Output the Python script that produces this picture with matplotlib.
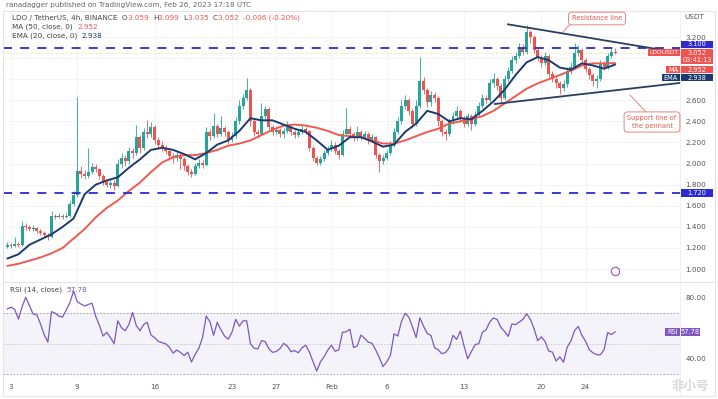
import numpy as np
import pandas as pd
import matplotlib
matplotlib.use("Agg")
import matplotlib.pyplot as plt
import matplotlib.dates as mdates
from matplotlib.patches import Rectangle
from matplotlib.lines import Line2D

# ---------------- data ----------------
first_open = 1.21
closes = [1.23, 1.22, 1.24, 1.23, 1.41, 1.40, 1.38, 1.39, 1.36, 1.34,
          1.32, 1.30, 1.50, 1.49, 1.50, 1.49, 1.50, 1.62, 1.70, 1.93,
          1.90, 1.88, 1.92, 1.97, 1.95, 1.88, 1.83, 1.80, 1.82, 1.79,
          2.00, 2.05, 2.02, 2.12, 2.10, 2.25, 2.15, 2.30, 2.28, 2.35,
          2.22, 2.18, 2.15, 2.12, 2.07, 2.05, 2.08, 2.04, 1.98, 1.92,
          1.90, 1.98, 2.01, 1.99, 2.30, 2.26, 2.36, 2.28, 2.34, 2.30,
          2.22, 2.26, 2.40, 2.55, 2.62, 2.70, 2.40, 2.30, 2.28, 2.45,
          2.52, 2.35, 2.30, 2.32, 2.28, 2.31, 2.35, 2.30, 2.27, 2.30,
          2.33, 2.31, 2.15, 2.05, 2.01, 2.04, 2.10, 2.14, 2.18, 2.12,
          2.08, 2.28, 2.33, 2.28, 2.24, 2.30, 2.25, 2.28, 2.22, 2.25,
          2.08, 2.02, 2.05, 2.10, 2.18, 2.30, 2.40, 2.55, 2.60, 2.50,
          2.38, 2.55, 2.78, 2.70, 2.58, 2.65, 2.62, 2.40, 2.30, 2.28,
          2.40, 2.45, 2.50, 2.42, 2.38, 2.45, 2.38, 2.46, 2.55, 2.62,
          2.60, 2.76, 2.80, 2.74, 2.62, 2.80, 2.88, 2.98, 3.02, 3.10,
          3.06, 3.25, 3.20, 3.08, 3.00, 2.95, 3.02, 2.85, 2.80, 2.76,
          2.72, 2.75, 2.88, 2.92, 3.05, 3.08, 2.98, 2.90, 2.84, 2.78,
          2.80, 2.95, 2.92, 3.02, 3.06, 3.052]
highs = [1.26, 1.25, 1.30, 1.26, 1.46, 1.44, 1.42, 1.42, 1.40, 1.38,
         1.36, 1.34, 1.55, 1.52, 1.53, 1.52, 1.53, 1.65, 1.74, 2.63,
         1.98, 1.94, 2.15, 2.01, 2.00, 1.96, 1.90, 1.85, 1.85, 1.84,
         2.04, 2.10, 2.08, 2.16, 2.15, 2.37, 2.27, 2.34, 2.41, 2.39,
         2.37, 2.25, 2.21, 2.18, 2.14, 2.10, 2.11, 2.10, 2.06, 2.00,
         1.95, 2.01, 2.04, 2.03, 2.35, 2.33, 2.48, 2.38, 2.45, 2.36,
         2.32, 2.30, 2.44, 2.60, 2.66, 2.81, 2.72, 2.42, 2.33, 2.57,
         2.55, 2.54, 2.37, 2.35, 2.34, 2.34, 2.40, 2.37, 2.32, 2.33,
         2.36, 2.35, 2.32, 2.17, 2.07, 2.07, 2.13, 2.17, 2.22, 2.20,
         2.14, 2.32, 2.53, 2.36, 2.30, 2.36, 2.32, 2.31, 2.30, 2.28,
         2.26, 2.10, 2.08, 2.13, 2.21, 2.34, 2.44, 2.60, 2.65, 2.62,
         2.52, 2.60, 3.01, 2.82, 2.72, 2.69, 2.68, 2.64, 2.42, 2.33,
         2.43, 2.49, 2.55, 2.52, 2.45, 2.48, 2.47, 2.50, 2.58, 2.66,
         2.65, 2.80, 2.86, 2.82, 2.76, 2.84, 2.92, 3.02, 3.06, 3.14,
         3.13, 3.31, 3.27, 3.22, 3.10, 3.03, 3.06, 3.04, 2.88, 2.82,
         2.78, 2.79, 2.92, 2.96, 3.14, 3.12, 3.10, 3.00, 2.92, 2.86,
         2.84, 2.98, 2.97, 3.05, 3.10, 3.099]
lows = [1.20, 1.20, 1.21, 1.21, 1.22, 1.37, 1.36, 1.36, 1.34, 1.32,
        1.30, 1.28, 1.29, 1.47, 1.48, 1.47, 1.48, 1.49, 1.60, 1.68,
        1.86, 1.85, 1.86, 1.90, 1.92, 1.85, 1.80, 1.78, 1.77, 1.75,
        1.78, 1.96, 1.98, 2.00, 2.05, 2.08, 2.10, 2.13, 2.24, 2.25,
        2.19, 2.14, 2.12, 2.09, 2.03, 2.01, 2.02, 1.95, 1.94, 1.89,
        1.87, 1.89, 1.96, 1.96, 1.98, 2.22, 2.24, 2.25, 2.26, 2.26,
        2.19, 2.20, 2.24, 2.38, 2.52, 2.60, 2.36, 2.26, 2.24, 2.27,
        2.42, 2.32, 2.27, 2.28, 2.25, 2.24, 2.29, 2.27, 2.24, 2.25,
        2.28, 2.28, 2.12, 2.02, 1.99, 1.99, 2.02, 2.08, 2.12, 2.09,
        2.04, 2.07, 2.26, 2.25, 2.21, 2.22, 2.22, 2.23, 2.19, 2.20,
        2.05, 1.92, 2.00, 2.03, 2.08, 2.16, 2.28, 2.38, 2.52, 2.46,
        2.34, 2.36, 2.53, 2.66, 2.54, 2.55, 2.58, 2.36, 2.26, 2.22,
        2.26, 2.38, 2.43, 2.39, 2.35, 2.36, 2.32, 2.36, 2.44, 2.53,
        2.57, 2.58, 2.73, 2.70, 2.58, 2.60, 2.78, 2.86, 2.95, 3.00,
        3.03, 3.04, 3.14, 3.05, 2.97, 2.92, 2.93, 2.82, 2.77, 2.72,
        2.66, 2.69, 2.73, 2.85, 2.90, 3.02, 2.95, 2.87, 2.80, 2.74,
        2.72, 2.78, 2.89, 2.90, 3.00, 3.035]
ma50 = [1.03, 1.05, 1.08, 1.11, 1.15, 1.20, 1.29, 1.38, 1.49, 1.58,
        1.65, 1.74, 1.82, 1.92, 2.01, 2.06, 2.08, 2.08, 2.10, 2.13,
        2.17, 2.19, 2.22, 2.27, 2.32, 2.36, 2.37, 2.36, 2.34, 2.31,
        2.27, 2.26, 2.25, 2.22, 2.19, 2.19, 2.22, 2.26, 2.30, 2.33,
        2.38, 2.40, 2.42, 2.45, 2.50, 2.57, 2.64, 2.71, 2.76, 2.80,
        2.84, 2.88, 2.93, 2.95, 2.95, 2.952]
ema20 = [1.10, 1.14, 1.23, 1.28, 1.33, 1.40, 1.48, 1.71, 1.80, 1.84,
         1.87, 1.96, 2.04, 2.13, 2.15, 2.13, 2.09, 2.04, 2.10, 2.18,
         2.22, 2.31, 2.43, 2.41, 2.41, 2.37, 2.33, 2.30, 2.22, 2.13,
         2.17, 2.25, 2.25, 2.21, 2.16, 2.18, 2.30, 2.38, 2.50, 2.47,
         2.40, 2.43, 2.42, 2.50, 2.59, 2.70, 2.84, 2.96, 3.01, 2.98,
         2.91, 2.89, 2.95, 2.93, 2.90, 2.938]
rsi = [72.8, 74.0, 72.5, 66.2, 74.0, 80.5, 75.0, 69.5, 69.0, 63.0,
       56.0, 51.0, 71.0, 70.0, 68.0, 67.5, 72.0, 77.0, 84.5, 77.5,
       76.0, 74.7, 75.8, 76.5, 68.0, 62.0, 55.0, 57.5, 54.0, 50.0,
       65.0, 60.5, 58.5, 62.5, 70.5, 62.0, 58.5, 62.5, 64.0, 55.7,
       54.0, 51.5, 50.7, 49.9, 47.7, 43.8, 45.8, 44.3, 42.2, 44.4,
       38.0, 43.0, 47.0, 54.0, 68.0, 64.5, 55.5, 64.0, 59.0, 55.0,
       53.0, 57.5, 66.0, 61.5, 65.0, 65.0, 50.0, 47.0, 46.6, 52.0,
       51.4, 46.6, 44.3, 44.9, 46.7, 50.2, 48.5, 44.7, 45.5, 44.0,
       47.3, 49.0, 44.6, 38.2, 32.1, 38.0, 41.5, 45.8, 49.0, 45.0,
       46.0, 57.5, 57.8, 59.5, 47.5, 48.5, 55.7, 53.5, 51.0, 50.3,
       46.0, 40.8, 35.0, 38.0, 42.3, 56.5, 55.0, 64.5, 70.0, 67.4,
       61.0, 54.0, 67.0, 61.5, 56.7, 55.4, 47.4, 46.0, 43.4, 44.3,
       47.5, 55.5, 52.8, 58.3, 48.5, 40.1, 44.9, 49.4, 50.0, 57.5,
       59.2, 64.3, 66.9, 65.8, 60.7, 58.0, 54.8, 63.0, 62.5, 64.2,
       66.0, 69.6, 66.0, 59.8, 52.0, 54.5, 51.4, 45.1, 44.5, 38.6,
       41.4, 37.8, 47.7, 51.7, 58.6, 61.3, 55.5, 51.5, 46.1, 44.0,
       42.8, 42.7, 46.0, 57.3, 56.0, 57.78]

tick_dates = ["2023-01-03", "2023-01-09", "2023-01-16", "2023-01-23", "2023-01-27",
              "2023-02-01", "2023-02-06", "2023-02-13", "2023-02-20", "2023-02-24"]
tick_labels = ["3", "9", "16", "23", "27", "Feb", "6", "13", "20", "24"]
price_grid = [3.2, 3.0, 2.8, 2.6, 2.4, 2.2, 2.0, 1.8, 1.6, 1.4, 1.2, 1.0]
price_labels = ["3.200", "", "", "2.600", "2.400", "2.200", "2.000", "1.800",
                "1.600", "1.400", "1.200", "1.000"]
rsi_ticks = [80, 40]

resistance_level = 3.10
support_level = 1.72
pennant_top_times = ["2023-02-16 23:30", "2023-03-04 12:00"]
pennant_top_prices = [3.32, 3.05]
pennant_bot_times = ["2023-02-15 19:00", "2023-03-04 12:00"]
pennant_bot_prices = [2.565, 2.764]

last_price = 3.052
countdown = "03:41:13"
rsi_last = 57.78

# ---------------- figure ----------------
W, H = 718, 399
fig = plt.figure(figsize=(W / 100, H / 100), dpi=100)
fig.patch.set_facecolor("white")


def fx(x):
    return x / W


def fy(y):
    return 1 - y / H


L, R = 3, 680
ax = fig.add_axes([fx(L), fy(281), (R - L) / W, (281 - 12) / H])
axr = fig.add_axes([fx(L), fy(378), (R - L) / W, (378 - 283) / H])

bar_times = pd.date_range("2023-01-02 16:00", periods=len(closes), freq="8h")
avg_times = bar_times[::3]
tb = mdates.date2num(bar_times)
ta = mdates.date2num(avg_times)
base = mdates.date2num(pd.Timestamp("2023-01-03"))
xlim = (base + (L - 11) / 11.05, base + (R - 11) / 11.05)

opens = [first_open] + closes[:-1]
up = "#26a69a"
dn = "#ef5350"
cols = [up if c >= o else dn for o, c in zip(opens, closes)]
ax.vlines(tb, lows, highs, colors=cols, linewidth=0.6, zorder=2)
bottoms = [min(o, c) for o, c in zip(opens, closes)]
heights = [max(abs(c - o), 0.004) for o, c in zip(opens, closes)]
ax.bar(tb, heights, bottom=bottoms, width=0.27, color=cols, linewidth=0, zorder=3)

ax.plot(ta, ma50, color="#f05a4e", lw=1.4, zorder=4, solid_capstyle="round")
ax.plot(ta, ema20, color="#1d3a70", lw=1.4, zorder=5, solid_capstyle="round")

ax.axhline(resistance_level, color="#2b2bd1", lw=1.3, dashes=(5, 4.5), zorder=6)
ax.axhline(support_level, color="#2b2bd1", lw=1.3, dashes=(5, 4.5), zorder=6)
ax.axhline(last_price, color="#e8c46a", lw=0.6, ls=(0, (1, 2)), alpha=0.8, zorder=1)

ax.plot(mdates.date2num(pd.to_datetime(pennant_top_times)), pennant_top_prices,
        color="#2a3d63", lw=1.3, zorder=7, clip_on=False)
ax.plot(mdates.date2num(pd.to_datetime(pennant_bot_times)), pennant_bot_prices,
        color="#2a3d63", lw=1.3, zorder=7, clip_on=False)

ax.plot([mdates.date2num(pd.Timestamp("2023-02-26 16:00"))], [0.982], marker="o",
        ms=6, mfc="white", mec="#9c4dcc", mew=0.8, zorder=8)

ax.set_xlim(*xlim)
ax.set_ylim(0.887, 3.437)
tick_nums = mdates.date2num(pd.to_datetime(tick_dates))
ax.set_xticks(tick_nums)
ax.set_xticklabels([])
ax.set_yticks(price_grid)
ax.set_yticklabels(price_labels)
ax.yaxis.tick_right()
ax.tick_params(axis="both", length=0, labelsize=5.2, colors="#555555", pad=4)
ax.grid(True, color="#f3f3f3", lw=0.6)
for s in ax.spines.values():
    s.set_visible(False)

# RSI panel
axr.fill_between(xlim, 30, 70, color="#7e57c2", alpha=0.07, lw=0)
axr.axhline(70, color="#9a9a9a", lw=0.6, ls=(0, (2, 2)))
axr.axhline(50, color="#bdbdbd", lw=0.5, ls=(0, (2, 2)))
axr.axhline(30, color="#9a9a9a", lw=0.6, ls=(0, (2, 2)))
axr.plot(tb, rsi, color="#7e57c2", lw=0.9, zorder=3)
axr.set_xlim(*xlim)
axr.set_ylim(27.5, 89.8)
axr.set_xticks(tick_nums)
axr.set_xticklabels(tick_labels)
axr.set_yticks(rsi_ticks)
axr.set_yticklabels([f"{v:.2f}" for v in rsi_ticks])
axr.yaxis.tick_right()
axr.tick_params(axis="both", length=0, labelsize=5.2, colors="#555555", pad=4)
axr.grid(True, axis="x", color="#f3f3f3", lw=0.6)
for s in axr.spines.values():
    s.set_visible(False)

# frame & separators
fig.add_artist(Rectangle((fx(3), fy(396)), (715 - 3) / W, (396 - 11) / H,
                         transform=fig.transFigure, fill=False, ec="#e0e3eb", lw=0.7))
fig.add_artist(Line2D([fx(3), fx(715)], [fy(282), fy(282)], transform=fig.transFigure,
                      color="#e0e3eb", lw=0.7))
fig.add_artist(Line2D([fx(R), fx(R)], [fy(11), fy(396)], transform=fig.transFigure,
                      color="#eeeeee", lw=0.6))

renderer = fig.canvas.get_renderer()


def seq_text(x, y, parts, size=5.2):
    cx = x
    for s, c in parts:
        t = fig.text(fx(cx), fy(y), s, color=c, fontsize=size, va="center", ha="left")
        cx += t.get_window_extent(renderer=renderer).width


fig.text(fx(6), fy(5), "ranadagger published on TradingView.com, Feb 26, 2023 17:18 UTC",
         fontsize=5.2, color="#666666", va="center", ha="left")
red = "#ef5350"
seq_text(12, 18, [("LDO / TetherUS, 4h, BINANCE  ", "#444444"), ("O", "#444444"), ("3.059  ", red),
                  ("H", "#444444"), ("3.099  ", red), ("L", "#444444"), ("3.035  ", red),
                  ("C", "#444444"), ("3.052  ", red), ("-0.006 (-0.20%)", red)])
seq_text(12, 27, [("MA (50, close, 0)  ", "#444444"), ("2.952", red)])
seq_text(12, 36, [("EMA (20, close, 0)  ", "#444444"), ("2.938", "#1d3a70")])
seq_text(10, 290, [("RSI (14, close)  ", "#444444"), ("57.78", "#7e57c2")])

fig.text(fx(684), fy(17), "USDT", fontsize=5.2, color="#555555", va="center", ha="left")


def box(x0, y0, x1, y1, color, lines, tc="white", size=4.8):
    fig.add_artist(Rectangle((fx(x0), fy(y1)), (x1 - x0) / W, (y1 - y0) / H,
                             transform=fig.transFigure, color=color, lw=0, zorder=10))
    n = len(lines)
    for i, s in enumerate(lines):
        yy = y0 + (y1 - y0) * (i + 0.5) / n
        fig.text(fx((x0 + x1) / 2), fy(yy), s, color=tc, fontsize=size, ha="center",
                 va="center", zorder=11)


box(681, 41, 713, 48, "#2b2bd1", ["3.100"])
box(648, 49, 680, 56, "#ef5350", ["LDOUSDT"], size=4.3)
box(681, 49, 713, 64, "#ef5350", ["3.052", countdown])
box(666, 66, 680, 73, "#ef5350", ["MA"])
box(681, 66, 713, 73, "#ef5350", ["2.952"])
box(662, 74, 680, 81, "#1d3a70", ["EMA"])
box(681, 74, 713, 81, "#1d3a70", ["2.938"])
box(681, 189, 713, 197, "#2b2bd1", ["1.720"])
box(665, 328, 680, 336, "#7e57c2", ["RSI"])
box(681, 328, 700, 336, "#7e57c2", ["57.78"])

# callouts
fig.text(fx(597), fy(18.5), "Resistance line", fontsize=4.8, color="#e05a50", ha="center",
         va="center", zorder=12,
         bbox=dict(boxstyle="round,pad=0.5", fc="white", ec="#e8857d", lw=0.7))
fig.add_artist(Line2D([fx(572), fx(563)], [fy(22), fy(32)], transform=fig.transFigure,
                      color="#e8857d", lw=0.7, zorder=12))
fig.text(fx(652), fy(122), "Support line of\nthe pennant", fontsize=4.8, color="#e05a50",
         ha="center", va="center", zorder=12, linespacing=1.3,
         bbox=dict(boxstyle="round,pad=0.5", fc="white", ec="#e8857d", lw=0.7))
fig.add_artist(Line2D([fx(630), fx(646)], [fy(95), fy(112)], transform=fig.transFigure,
                      color="#e8857d", lw=0.7, zorder=12))

fig.text(fx(690), fy(386), "非小号", fontsize=9, color="#d9d9d9", ha="center", va="center",
         family=["Noto Sans CJK SC", "DejaVu Sans"], fontweight="bold")

fig.savefig("out.png", dpi=100, facecolor="white")
